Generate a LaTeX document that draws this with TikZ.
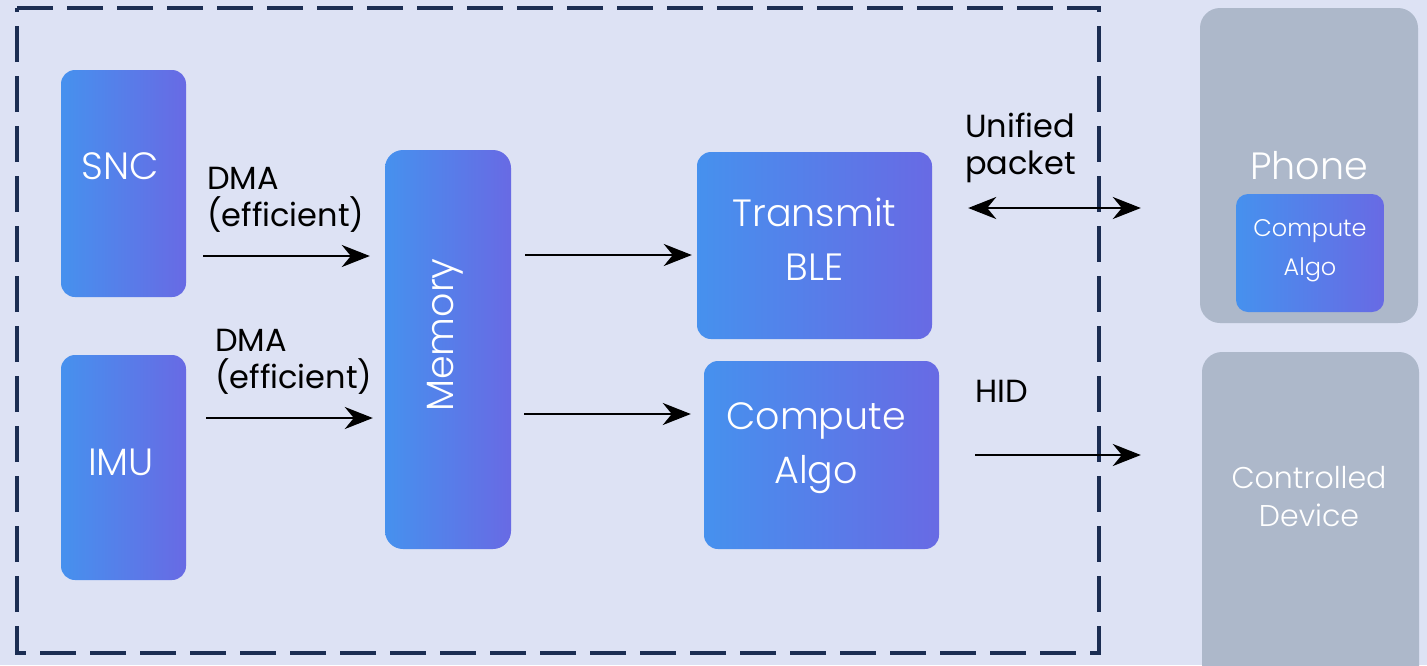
\documentclass[tikz,border=0pt]{standalone}
\usepackage{fontspec}
\setmainfont{Poppins}
\IfFontExistsTF{Poppins Light}{\newfontfamily\plight{Poppins Light}}{\newfontfamily\plight{Poppins}}
\usetikzlibrary{arrows.meta}
\definecolor{bg}{HTML}{DDE2F4}
\definecolor{gl}{HTML}{4691EE}
\definecolor{gr}{HTML}{686AE4}
\definecolor{gb}{HTML}{ADB8CA}
\definecolor{navy}{HTML}{1B2D52}
\tikzset{
  blk/.style={rectangle, rounded corners=14pt, left color=gl, right color=gr, draw=none, inner sep=0pt},
  gbox/.style={rectangle, rounded corners=20pt, fill=gb, draw=none, inner sep=0pt},
  wt/.style={text=white, font=\plight\fontsize{38}{54}\selectfont, align=center, inner sep=0pt},
  lbl/.style={text=black, font=\fontsize{32}{37}\selectfont, align=left, anchor=west, inner sep=0pt},
  arr/.style={line width=2.5pt, -{Stealth[length=28pt,width=22pt,inset=9pt]}},
  darr/.style={line width=2.5pt, {Stealth[length=28pt,width=22pt,inset=9pt]}-{Stealth[length=28pt,width=22pt,inset=9pt]}},
  frame/.style={draw=navy, line width=4pt, dash pattern=on 36pt off 14pt}
}
\begin{document}
\begin{tikzpicture}[x=1pt,y=-1pt]
\useasboundingbox (0,0) rectangle (1427,665);
\clip (0,0) rectangle (1427,665);
\fill[bg] (0,0) rectangle (1427,665);
\draw[frame] (17,8) -- (1099,8) -- (1099,653) -- (17,653) -- cycle;

% gradient blocks
\node[blk, minimum width=125pt, minimum height=227pt] (snc) at (123.5,183.5) {};
\node[wt] (snct) at (120,166) {SNC};
\node[blk, minimum width=125pt, minimum height=225pt] (imu) at (123.5,467.5) {};
\node[wt] (imut) at (121,462) {IMU};
\node[blk, rounded corners=18pt, minimum width=126pt, minimum height=399pt] (mem) at (448,349.5) {};
\node[wt, rotate=90] (memt) at (445,335) {Memory};
\node[blk, minimum width=235pt, minimum height=187pt] (tx) at (814.5,245.5) {};
\node[wt] (txt) at (814.5,239) {Transmit\\BLE};
\node[blk, minimum width=235pt, minimum height=188pt] (ca) at (821.5,455) {};
\node[wt] (cat) at (816,448) {Compute\\Algo};

% grey boxes
\node[gbox, minimum width=218pt, minimum height=315pt] (phone) at (1309,165.5) {};
\node[wt] (phonet) at (1309,166) {Phone};
\node[blk, rounded corners=12pt, minimum width=148pt, minimum height=118pt] (pca) at (1310,253) {};
\node[wt, font=\plight\fontsize{24}{39}\selectfont] (pcat) at (1310,251) {Compute\\Algo};
\node[gbox, minimum width=217pt, minimum height=340pt] (dev) at (1310.5,522) {};
\node[wt, font=\plight\fontsize{30}{38}\selectfont] (devt) at (1309,497) {Controlled\\Device};

% connectors
\draw[arr, shorten <=17pt, shorten >=15pt] (snc.east |- 0,256) -- (mem.west |- 0,256);
\draw[arr, shorten <=20pt, shorten >=12pt] (imu.east |- 0,418) -- (mem.west |- 0,418);
\draw[arr, shorten <=14pt, shorten >=5pt] (mem.east |- 0,255) -- (tx.west |- 0,255);
\draw[arr, shorten <=13pt, shorten >=13pt] (mem.east |- 0,414) -- (ca.west |- 0,414);
\draw[darr, shorten <=36pt, shorten >=59pt] (tx.east |- 0,208) -- (phone.west |- 0,208);
\draw[arr, shorten <=36pt, shorten >=61pt] (ca.east |- 0,455) -- (dev.west |- 0,455);

% labels
\node[lbl] (l1) at (207,200) {DMA\\(efficient)};
\node[lbl] (l2) at (215,362) {DMA\\(efficient)};
\node[lbl] (l3) at (965,148) {Unified\\packet};
\node[lbl] (l4) at (975,391) {HID};
\end{tikzpicture}
\end{document}
